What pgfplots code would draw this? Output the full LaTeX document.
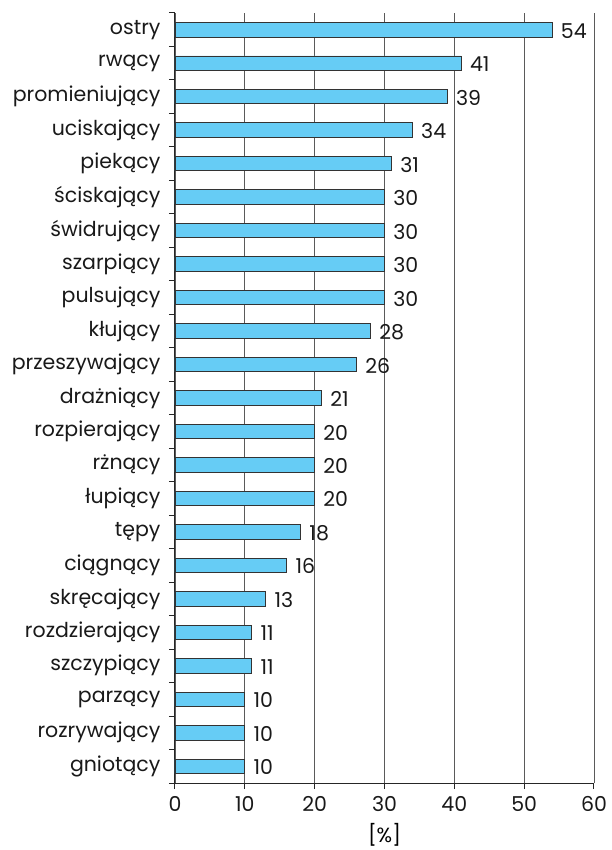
\documentclass[border=0pt]{standalone}
\usepackage{pgfplots}
\pgfplotsset{compat=1.18}
\usepackage{fontspec}
\setmainfont{Poppins}
\definecolor{barblue}{HTML}{66CCF5}
\definecolor{gridgray}{HTML}{5A5A5A}
\newcommand{\lbl}{\fontsize{20.5pt}{24pt}\selectfont}

% pain descriptors and share of answers [%], from bottom to top
\pgfplotstableread{
y val
0 10
1 10
2 10
3 11
4 11
5 13
6 16
7 18
8 20
9 20
10 20
11 21
12 26
13 28
14 30
15 30
16 30
17 30
18 31
19 34
20 39
21 41
22 54
}\paintable

\begin{document}
\begin{tikzpicture}
\path[use as bounding box] (-175pt,-67pt) rectangle (436pt,783pt);
\begin{axis}[
  at={(0,0)}, anchor=south west,
  scale only axis, width=419pt, height=770pt,
  xbar, bar width=14.5pt,
  xmin=0, xmax=60, ymin=-0.5, ymax=22.5,
  axis x line*=bottom, axis y line*=left,
  axis line style={-, black!85, line width=1pt},
  xtick={0,10,...,60},
  xmajorgrids,
  grid style={gridgray, line width=0.9pt},
  tick align=outside,
  major tick length=6pt,
  tick style={black!85, line width=1pt},
  ytick={-0.5,0.5,...,22.5},
  yticklabels={},
  extra y ticks={0,...,22},
  extra y tick labels={gniotący,rozrywający,parzący,szczypiący,rozdzierający,skręcający,ciągnący,tępy,łupiący,rżnący,rozpierający,drażniący,przeszywający,kłujący,pulsujący,szarpiący,świdrujący,ściskający,piekący,uciskający,promieniujący,rwący,ostry},
  extra y tick style={major tick length=0pt, yticklabel style={xshift=-11pt}},
  ticklabel style={font=\lbl, text=black!90},
  xticklabel style={yshift=-4pt},
  /pgf/number format/assume math mode=true,
  xlabel={[\%]},
  xlabel style={font=\lbl, yshift=-5pt},
  point meta=x,
  nodes near coords,
  nodes near coords style={font=\lbl, anchor=west, xshift=5pt, yshift=-1pt, text=black!90,
    /pgf/number format/assume math mode=true},
]
\addplot[fill=barblue, draw=black!80, line width=0.9pt] table[x=val, y=y] {\paintable};
\end{axis}
\end{tikzpicture}
\end{document}
